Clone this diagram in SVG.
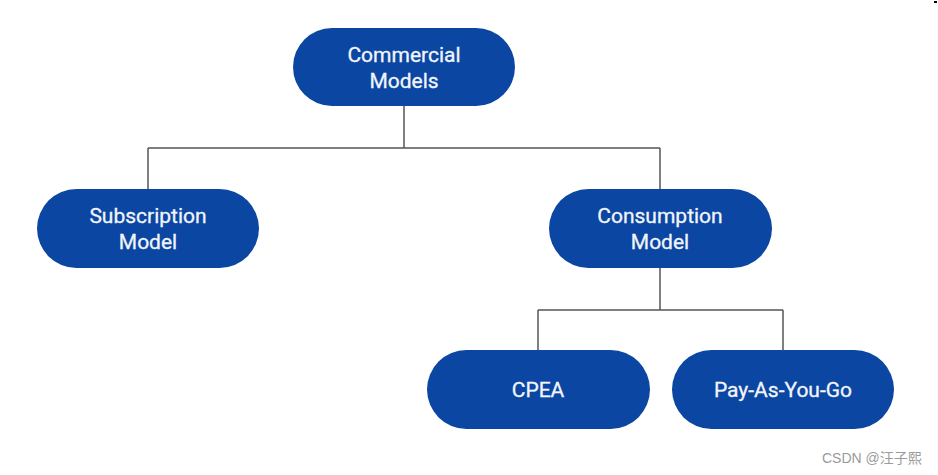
<svg xmlns="http://www.w3.org/2000/svg" width="938" height="475" viewBox="0 0 938 475">
<style>
.node rect{fill:#0A46A2;}
.node text{fill:#F2F5FA;font-family:Roboto,"Liberation Sans",sans-serif;font-size:21px;text-anchor:middle;stroke:#F2F5FA;stroke-width:0.3;}
.conn{fill:none;stroke:#555555;stroke-width:1.5;}
.wm{fill:#9a9a9a;font-family:"Liberation Sans","Noto Sans CJK SC",sans-serif;font-size:14px;}
</style>
<rect width="938" height="475" fill="#ffffff"/>
<g id="connectors">
<path class="conn" d="M404,106 V148 M148,148 H660 M148,148 V189 M660,148 V189"/>
<path class="conn" d="M660,268 V310 M538,310 H783 M538,310 V350 M783,310 V350"/>
</g>
<g id="commercial-models" class="node">
<rect x="293" y="28" width="222" height="78" rx="39"/>
<text x="404" y="62">Commercial</text>
<text x="404" y="88">Models</text>
</g>
<g id="subscription-model" class="node">
<rect x="37" y="189" width="222" height="79" rx="39.5"/>
<text x="148" y="223">Subscription</text>
<text x="148" y="249">Model</text>
</g>
<g id="consumption-model" class="node">
<rect x="549" y="189" width="223" height="79" rx="39.5"/>
<text x="660" y="223">Consumption</text>
<text x="660" y="249">Model</text>
</g>
<g id="cpea" class="node">
<rect x="427" y="350" width="223" height="79" rx="39.5"/>
<text x="538" y="397">CPEA</text>
</g>
<g id="pay-as-you-go" class="node">
<rect x="672" y="350" width="222" height="79" rx="39.5"/>
<text x="783" y="397">Pay-As-You-Go</text>
</g>
<text class="wm" x="822" y="463">CSDN @汪子熙</text>
<rect x="934" y="1" width="3" height="2" fill="#000"/>
</svg>
